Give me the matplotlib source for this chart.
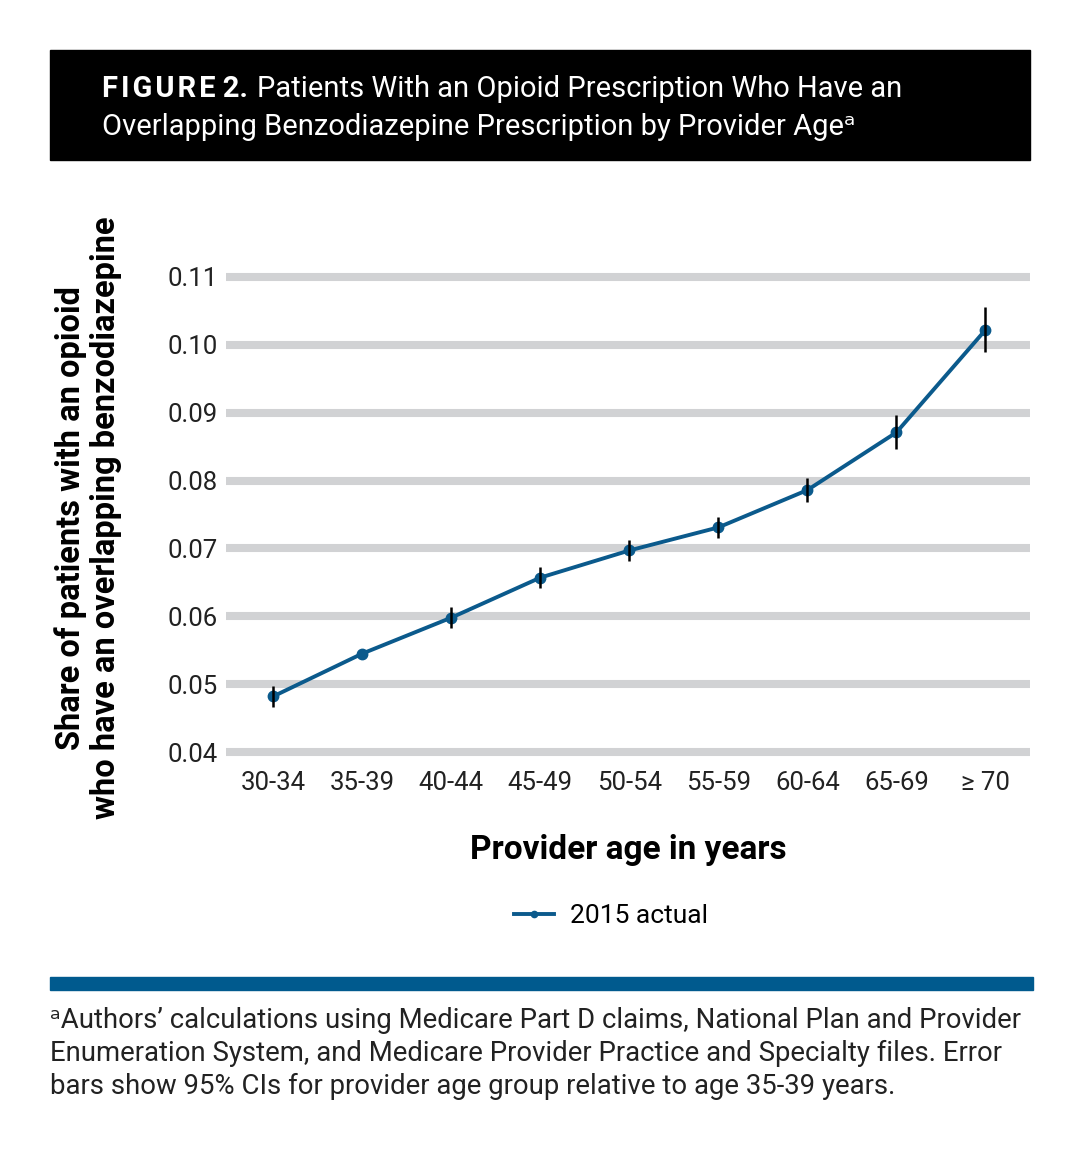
import matplotlib.pyplot as plt
from matplotlib.patches import Rectangle
import numpy as np

# data
age_groups = ['30-34', '35-39', '40-44', '45-49', '50-54', '55-59', '60-64', '65-69', '≥ 70']
share = [0.0482, 0.0545, 0.0598, 0.0657, 0.0697, 0.0731, 0.0786, 0.0871, 0.1022]
ci_half = [0.0016, np.nan, 0.0015, 0.0015, 0.0016, 0.0016, 0.0018, 0.0025, 0.0033]
yticks = [0.04, 0.05, 0.06, 0.07, 0.08, 0.09, 0.10, 0.11]

BLUE = '#0b5a8c'
GRID = '#d1d2d4'
FONT = ['Roboto', 'DejaVu Sans']

plt.rcParams['font.family'] = FONT

W, H = 1084, 1162
fig = plt.figure(figsize=(W / 100, H / 100), dpi=100)

# header box
fig.patches.append(Rectangle((50 / W, 1 - 160 / H), 980 / W, 110 / H,
                             transform=fig.transFigure, color='black', zorder=0))
fig.text(102 / W, 1 - 97 / H, '\u200a'.join('FIGURE') + ' 2.', color='white', fontsize=21,
         fontweight='bold', va='baseline', ha='left')
fig.text(257 / W, 1 - 97 / H, 'Patients With an Opioid Prescription Who Have an',
         color='white', fontsize=21, va='baseline', ha='left')
fig.text(102 / W, 1 - 135 / H, 'Overlapping Benzodiazepine Prescription by Provider Ageᵃ',
         color='white', fontsize=21, va='baseline', ha='left')

# main axes
ax = fig.add_axes([226 / W, 1 - 756.8 / H, (1030 - 226) / W, (756.8 - 272.2) / H])
x = np.arange(len(age_groups))
ax.plot(x, share, color=BLUE, lw=2.8, marker='o', ms=7.5, zorder=3, label='2015 actual')
ax.errorbar(x, share, yerr=ci_half, fmt='none', ecolor='black', elinewidth=1.8, zorder=4)

ax.set_xlim(-0.53, 8.5)
ax.set_ylim(0.0393, 0.1107)
ax.set_yticks(yticks)
ax.set_yticklabels([f'{v:.2f}' for v in yticks])
ax.set_xticks(x)
ax.set_xticklabels(age_groups)
ax.tick_params(length=0, labelsize=18.5, colors='#222222', pad=10)
ax.tick_params(axis='y', pad=6)
for v in yticks:
    ax.axhline(v, color=GRID, lw=5.8, zorder=1)
for s in ax.spines.values():
    s.set_visible(False)

ax.set_xlabel('Provider age in years', fontsize=24, fontweight='bold', labelpad=28)
fig.text(88 / W, 1 - 518 / H, 'Share of patients with an opioid\nwho have an overlapping benzodiazepine',
         rotation=90, fontsize=23.5, fontweight='bold', ha='center', va='center',
         linespacing=1.1)

ax.legend(loc='center', bbox_to_anchor=(611 / W, 1 - 916 / H), bbox_transform=fig.transFigure,
          frameon=False, fontsize=19, handlelength=1.5, handletextpad=0.6, markerscale=0.6)

# blue rule
fig.patches.append(Rectangle((50 / W, 1 - 990 / H), 983 / W, 13 / H,
                             transform=fig.transFigure, color='#005a8e', zorder=0))

foot = ('ᵃAuthors’ calculations using Medicare Part D claims, National Plan and Provider\n'
        'Enumeration System, and Medicare Provider Practice and Specialty files. Error\n'
        'bars show 95% CIs for provider age group relative to age 35-39 years.')
fig.text(50 / W, 1 - 1007 / H, foot, fontsize=19.8, va='top', ha='left', color='#222222',
         linespacing=1.28)

fig.savefig('out.png', dpi=100)
plt.close(fig)
